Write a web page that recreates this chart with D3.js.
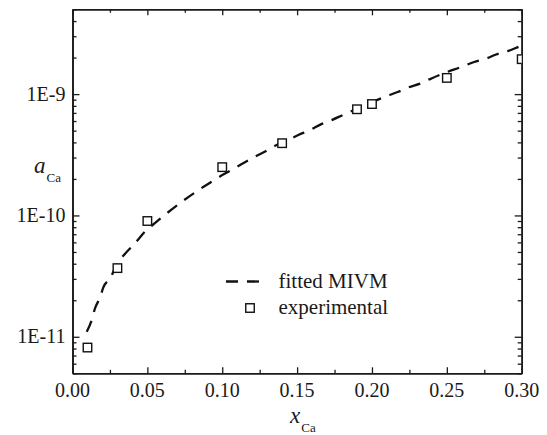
<!DOCTYPE html>
<html>
<head>
<meta charset="utf-8">
<script src="https://cdn.jsdelivr.net/npm/d3@7"></script>
</head>
<body style="margin:0">
<svg id="chart" width="547" height="435"></svg>
<script>
// Experimental activity of Ca
const expX = [0.01, 0.03, 0.05, 0.10, 0.14, 0.19, 0.20, 0.25, 0.30];
const expY = [8.15e-12, 3.68e-11, 9.0e-11, 2.5e-10, 3.94e-10, 7.5e-10, 8.28e-10, 1.36e-9, 1.94e-9];

// Fitted MIVM curve
const fitX = [0.0095, 0.0128, 0.015, 0.0184, 0.0206, 0.0255, 0.0295, 0.0351, 0.0418, 0.0484,
              0.0562, 0.0629, 0.0852, 0.093, 0.1003, 0.107, 0.1146, 0.1219, 0.1293, 0.1364,
              0.1442, 0.1508, 0.1587, 0.1658, 0.1731, 0.1805, 0.2032, 0.2099, 0.2176, 0.2243,
              0.2321, 0.2388, 0.2477, 0.2611, 0.2682, 0.2762, 0.2829, 0.2911, 0.2978, 0.30];
const fitY = [1.10e-11, 1.37e-11, 1.71e-11, 2.11e-11, 2.55e-11, 3.08e-11, 3.93e-11, 4.83e-11, 5.91e-11, 7.36e-11,
              8.89e-11, 1.04e-10, 1.65e-10, 1.90e-10, 2.16e-10, 2.40e-10, 2.72e-10, 3.05e-10, 3.40e-10, 3.81e-10,
              4.19e-10, 4.60e-10, 5.06e-10, 5.63e-10, 6.11e-10, 6.72e-10, 8.93e-10, 9.63e-10, 1.045e-9, 1.135e-9,
              1.22e-9, 1.33e-9, 1.48e-9, 1.70e-9, 1.84e-9, 1.96e-9, 2.12e-9, 2.27e-9, 2.45e-9, 2.51e-9];

// Tick values
const xMajor = [0, 0.05, 0.10, 0.15, 0.20, 0.25, 0.30];
const xMinor = [0.025, 0.075, 0.125, 0.175, 0.225, 0.275];
const yMajor = [1e-11, 1e-10, 1e-9];
const yLabels = ["1E-11", "1E-10", "1E-9"];

const legendNames = ["fitted MIVM", "experimental"];

const SERIF = "Liberation Serif";
const INK = "#1a1a1a";

const svg = d3.select("#chart");
const L = 72.5, R = 521.7, T = 9.3, B = 373.3;

const x = d3.scaleLinear().domain([0, 0.30]).range([L, R]);
const y = d3.scaleLog().domain([5e-12, 5e-9]).range([B, T]);
const yMinor = y.ticks().filter(v => !yMajor.some(m => Math.abs(m - v) / m < 1e-6));

// Serif text helper
function serif(sel, size) {
  return sel.attr("font-family", SERIF).style("font-family", SERIF)
    .attr("font-size", size).style("font-size", size + "px").attr("fill", INK);
}

function frameLines(g) {
  g.attr("font-family", SERIF);
  g.selectAll("path.domain").attr("stroke", INK).attr("stroke-width", 1.6);
  g.selectAll(".tick line").attr("stroke", INK).attr("stroke-width", 1.3);
  g.selectAll(".tick text").remove();
}

// Bottom axis: ticks inward
const gb = svg.append("g").attr("transform", `translate(0,${B})`)
  .call(d3.axisBottom(x).tickValues(xMajor).tickSize(-6).tickSizeOuter(0));
frameLines(gb);
const gbm = svg.append("g").attr("transform", `translate(0,${B})`)
  .call(d3.axisBottom(x).tickValues(xMinor).tickSize(-3.5).tickSizeOuter(0));
frameLines(gbm);

// Top axis
const gt = svg.append("g").attr("transform", `translate(0,${T})`)
  .call(d3.axisTop(x).tickValues(xMajor).tickSize(-6).tickSizeOuter(0));
frameLines(gt);
const gtm = svg.append("g").attr("transform", `translate(0,${T})`)
  .call(d3.axisTop(x).tickValues(xMinor).tickSize(-3.5).tickSizeOuter(0));
frameLines(gtm);

// Left axis
const gl = svg.append("g").attr("transform", `translate(${L},0)`)
  .call(d3.axisLeft(y).tickValues(yMajor).tickSize(-7).tickSizeOuter(0));
frameLines(gl);
const glm = svg.append("g").attr("transform", `translate(${L},0)`)
  .call(d3.axisLeft(y).tickValues(yMinor).tickSize(-4).tickSizeOuter(0));
frameLines(glm);

// Right axis
const gr = svg.append("g").attr("transform", `translate(${R},0)`)
  .call(d3.axisRight(y).tickValues(yMajor).tickSize(-7).tickSizeOuter(0));
frameLines(gr);
const grm = svg.append("g").attr("transform", `translate(${R},0)`)
  .call(d3.axisRight(y).tickValues(yMinor).tickSize(-4).tickSizeOuter(0));
frameLines(grm);

// Tick labels
serif(svg.append("g").selectAll("text").data(xMajor).join("text")
  .attr("x", d => x(d)).attr("y", B + 24)
  .attr("text-anchor", "middle"), 20)
  .text(d => d3.format(".2f")(d));

serif(svg.append("g").selectAll("text").data(yMajor).join("text")
  .attr("x", L - 7).attr("y", d => y(d) + 6.5)
  .attr("text-anchor", "end"), 20)
  .text((d, i) => yLabels[i]);

// Fitted curve
const fitData = fitX.map((v, i) => [v, fitY[i]]);
svg.append("clipPath").attr("id", "plotClip")
  .append("rect").attr("x", L).attr("y", T).attr("width", R - L).attr("height", B - T);

svg.append("path")
  .datum(fitData)
  .attr("clip-path", "url(#plotClip)")
  .attr("fill", "none")
  .attr("stroke", "#111")
  .attr("stroke-width", 2.3)
  .attr("stroke-dasharray", "12,9")
  .attr("d", d3.line().x(d => x(d[0])).y(d => y(d[1])).curve(d3.curveMonotoneX));

// Experimental points
const sq = 8.5;
svg.append("g").attr("clip-path", "url(#plotClip)")
  .selectAll("rect").data(expX.map((v, i) => [v, expY[i]])).join("rect")
  .attr("x", d => x(d[0]) - sq / 2)
  .attr("y", d => y(d[1]) - sq / 2)
  .attr("width", sq).attr("height", sq)
  .attr("fill", "#fff").attr("stroke", "#111").attr("stroke-width", 1.4);

// Legend
const lg = svg.append("g");
lg.append("line")
  .attr("x1", 226).attr("x2", 259).attr("y1", 281.5).attr("y2", 281.5)
  .attr("stroke", "#111").attr("stroke-width", 2.3).attr("stroke-dasharray", "12,9");
lg.append("rect")
  .attr("x", 250 - sq / 2).attr("y", 308 - sq / 2).attr("width", sq).attr("height", sq)
  .attr("fill", "#fff").attr("stroke", "#111").attr("stroke-width", 1.4);
serif(lg.selectAll("text").data(legendNames).join("text")
  .attr("x", 278.5)
  .attr("y", (d, i) => 288 + i * 26), 21)
  .text(d => d);

// Axis titles
const yt = serif(svg.append("text").attr("x", 34).attr("y", 173), 23);
yt.append("tspan").attr("font-style", "italic").style("font-style", "italic").text("a");
yt.append("tspan").attr("font-size", 13).style("font-size", "13px").attr("dy", 9).attr("dx", 1).text("Ca");

const xt = serif(svg.append("text").attr("x", 290).attr("y", 423), 23);
xt.append("tspan").attr("font-style", "italic").style("font-style", "italic").text("x");
xt.append("tspan").attr("font-size", 13).style("font-size", "13px").attr("dy", 9).attr("dx", 1).text("Ca");
</script>
</body>
</html>
